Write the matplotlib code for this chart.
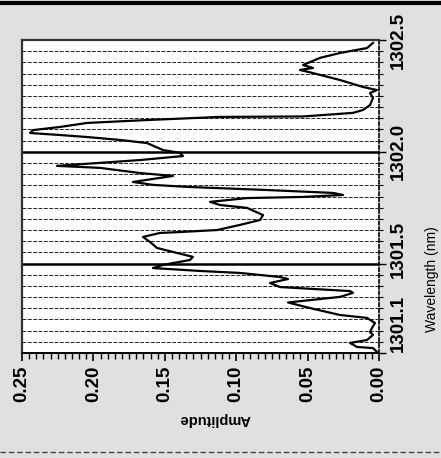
import matplotlib
matplotlib.use("Agg")
import matplotlib.pyplot as plt
from matplotlib.lines import Line2D
from matplotlib.transforms import ScaledTranslation
import numpy as np

# Spectrum (wavelength in nm, amplitude)
wavelength = [1301.105, 1301.122, 1301.127, 1301.145, 1301.158, 1301.181, 1301.194, 1301.212,
              1301.234, 1301.257, 1301.270, 1301.301, 1301.326, 1301.351, 1301.369, 1301.377,
              1301.395, 1301.413, 1301.431, 1301.440, 1301.458, 1301.467, 1301.480, 1301.494,
              1301.516, 1301.530, 1301.552, 1301.570, 1301.597, 1301.619, 1301.637, 1301.641,
              1301.650, 1301.673, 1301.695, 1301.717, 1301.749, 1301.762, 1301.776, 1301.793,
              1301.798, 1301.807, 1301.816, 1301.829, 1301.843, 1301.852, 1301.865, 1301.892,
              1301.905, 1301.928, 1301.937, 1301.963, 1301.981, 1301.995, 1302.008, 1302.039,
              1302.053, 1302.066, 1302.075, 1302.084, 1302.097, 1302.111, 1302.129, 1302.142,
              1302.156, 1302.158, 1302.174, 1302.187, 1302.209, 1302.241, 1302.263, 1302.276,
              1302.290, 1302.321, 1302.352, 1302.366, 1302.375, 1302.388, 1302.420, 1302.442,
              1302.464, 1302.487]
amplitude = [0.0014, 0.0042, 0.0154, 0.0203, 0.0084, 0.0042, 0.0063, 0.0049,
             0.0028, 0.0084, 0.0273, 0.0483, 0.0637, 0.0273, 0.0182, 0.0203,
             0.0693, 0.0763, 0.0637, 0.0693, 0.0973, 0.1254, 0.1583, 0.1513,
             0.1324, 0.1303, 0.1443, 0.1555, 0.1604, 0.1653, 0.1534, 0.1394,
             0.1134, 0.0973, 0.0833, 0.0812, 0.0924, 0.1113, 0.1183, 0.0924,
             0.0532, 0.0252, 0.0322, 0.0784, 0.1345, 0.1583, 0.1723, 0.1443,
             0.1674, 0.1954, 0.2255, 0.1674, 0.1373, 0.1394, 0.1513, 0.1625,
             0.1814, 0.2045, 0.2234, 0.2444, 0.2423, 0.2234, 0.2045, 0.1625,
             0.1113, 0.0532, 0.0182, 0.0112, 0.0063, 0.0042, 0.0063, 0.0014,
             0.0112, 0.0273, 0.0462, 0.0553, 0.0462, 0.0532, 0.0413, 0.0273,
             0.0084, 0.0042]

wl_ticks = [1301.1, 1301.5, 1302.0, 1302.5]
wl_ticklabels = ["1301.1", "1301.5", "1302.0", "1302.5"]
amp_ticks = [0.25, 0.20, 0.15, 0.10, 0.05, 0.00]
amp_ticklabels = ["0.25", "0.20", "0.15", "0.10", "0.05", "0.00"]
wl_grid = np.arange(1301.15, 1302.5, 0.05)
wl_major_grid = [1301.5, 1302.0]

plt.rcParams['font.family'] = ['Liberation Sans', 'DejaVu Sans']

fig = plt.figure(figsize=(4.41, 4.58), dpi=100, facecolor='#e0e0e0')
ax = fig.add_axes([22/441, 1 - 353/458, (379 - 22)/441, (353 - 40)/458])
ax.set_facecolor('white')

# grid lines (vertical wavelength grid of the original, shown rotated)
for g in wl_grid:
    ax.axhline(g, color='#222222', lw=0.7, ls=(0, (4, 1.5)), zorder=1)
for g in wl_major_grid:
    ax.axhline(g, color='black', lw=1.8, zorder=1.5)

ax.plot(amplitude, wavelength, color='black', lw=1.6, zorder=3)

ax.set_xlim(0.25, 0.0)
ax.set_ylim(1301.1, 1302.5)

# amplitude axis (bottom)
ax.set_xticks(amp_ticks, amp_ticklabels)
ax.set_xticks(np.arange(0.0, 0.2501, 0.005), minor=True)
ax.tick_params(axis='x', which='major', direction='out', length=6, width=1.2,
               labelrotation=90, labelsize=13.5, pad=3)
ax.tick_params(axis='x', which='minor', direction='out', length=4, width=1.0)
for lab in ax.get_xticklabels():
    lab.set_fontweight('bold')
    lab.set_va('top')

# wavelength axis (right)
ax.yaxis.tick_right()
ax.set_yticks(wl_ticks, wl_ticklabels)
ax.set_yticks(np.arange(1301.1, 1302.51, 0.05), minor=True)
ax.tick_params(axis='y', which='major', direction='out', length=5, width=1.0,
               labelrotation=90, labelsize=13.5, pad=3)
ax.tick_params(axis='y', which='minor', direction='out', length=3, width=0.8)
for lab in ax.get_yticklabels():
    lab.set_fontweight('bold')
    lab.set_va('center')

ax.yaxis.set_label_position('right')
ax.set_ylabel('Wavelength (nm)', fontsize=10, rotation=90)
ax.yaxis.set_label_coords(1.13, 0.235)
ax.set_xlabel('Amplitude', fontsize=10.5, fontweight='bold', rotation=180)
ax.xaxis.set_label_coords(0.54, -0.19)

for side in ['left', 'top']:
    ax.spines[side].set_linestyle((0, (1.5, 1)))
    ax.spines[side].set_linewidth(1.6)
    ax.spines[side].set_color('#333333')
ax.spines['right'].set_linestyle((0, (2, 1.5)))
ax.spines['right'].set_linewidth(1.2)
ax.spines['bottom'].set_linewidth(1.4)

fig.canvas.draw()
# shift the two lower wavelength labels upward like in the scan
offsets = {0: 30, 1: 14}
for i, lab in enumerate(ax.get_yticklabels()):
    if i in offsets:
        lab.set_transform(lab.get_transform() +
                          ScaledTranslation(0, offsets[i] / 100, fig.dpi_scale_trans))

# scanned page borders
fig.add_artist(Line2D([0, 1], [1 - 3/458, 1 - 3/458], color='black', lw=3,
                      transform=fig.transFigure))
fig.add_artist(Line2D([0, 1], [1 - 452/458, 1 - 452/458], color='#444444', lw=1,
                      ls=(0, (4, 2)), transform=fig.transFigure))

fig.savefig('out.png', dpi=100, facecolor=fig.get_facecolor())
